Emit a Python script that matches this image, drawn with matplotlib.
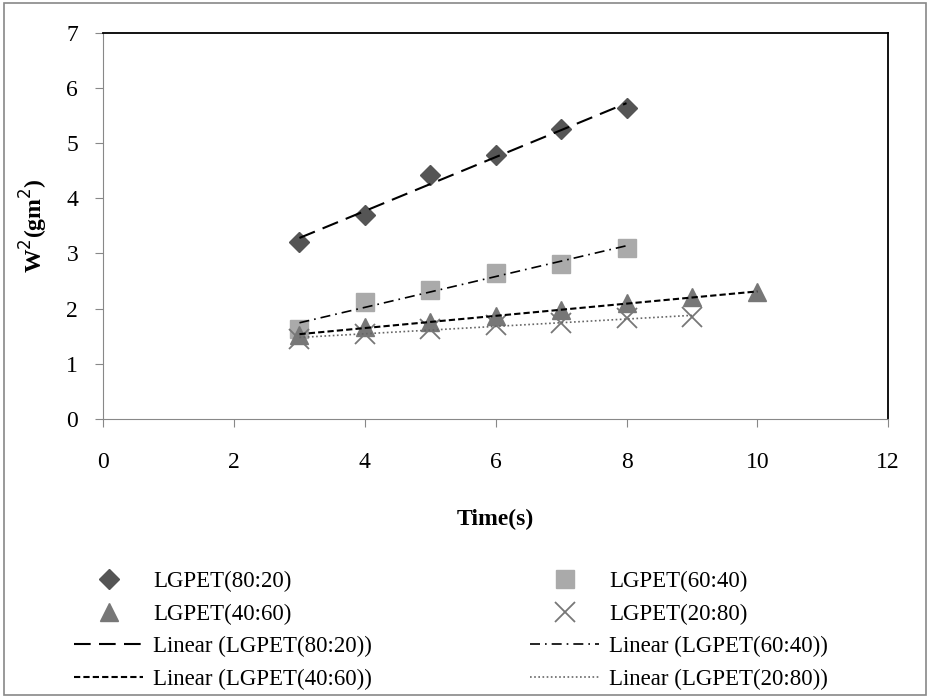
import matplotlib.pyplot as plt
import numpy as np
from matplotlib.patches import Rectangle

plt.rcParams['font.family'] = ['Liberation Serif', 'DejaVu Serif']

# Data
x_8020 = [3, 4, 5, 6, 7, 8]
y_8020 = [3.21, 3.70, 4.43, 4.79, 5.25, 5.63]

x_6040 = [3, 4, 5, 6, 7, 8]
y_6040 = [1.62, 2.12, 2.34, 2.65, 2.81, 3.10]

x_4060 = [3, 4, 5, 6, 7, 8, 9, 10]
y_4060 = [1.52, 1.66, 1.76, 1.86, 1.98, 2.10, 2.20, 2.30]

x_2080 = [3, 4, 5, 6, 7, 8, 9]
y_2080 = [1.45, 1.54, 1.63, 1.70, 1.74, 1.82, 1.85]

labels = ['LGPET(80:20)', 'LGPET(60:40)', 'LGPET(40:60)', 'LGPET(20:80)']

fig = plt.figure(figsize=(9.3, 6.98), dpi=100)
ax = fig.add_axes([0.111, 0.40, 0.844, 0.553])

# outer frame of the chart area
fig.patches.append(Rectangle((0.004, 0.004), 0.992, 0.992, transform=fig.transFigure,
                             fill=False, edgecolor='#888888', lw=1.2))


def trend(ax, x, y, **kw):
    # linear trendline over the span of the data
    m, c = np.polyfit(x, y, 1)
    xs = np.array([x[0], x[-1]])
    return ax.plot(xs, m * xs + c, **kw)[0]


h1 = ax.plot(x_8020, y_8020, 'D', color='#555555', ms=10, ls='none', label=labels[0])[0]
h2 = ax.plot(x_6040, y_6040, 's', color='#aaaaaa', ms=13, ls='none', label=labels[1])[0]
h3 = ax.plot(x_4060, y_4060, '^', color='#777777', ms=13, ls='none', label=labels[2])[0]
h4 = ax.plot(x_2080, y_2080, 'x', color='#777777', ms=14, mew=1.3, ls='none', label=labels[3])[0]

t1 = trend(ax, x_8020, y_8020, color='black', lw=1.5, dashes=(8, 4),
           label='Linear (LGPET(80:20))')
t2 = trend(ax, x_6040, y_6040, color='black', lw=1.2, dashes=(6, 3, 1, 3),
           label='Linear (LGPET(60:40))')
t3 = trend(ax, x_4060, y_4060, color='black', lw=1.5, dashes=(3, 1.5),
           label='Linear (LGPET(40:60))')
t4 = trend(ax, x_2080, y_2080, color='#666666', lw=1.2, dashes=(1, 1.5),
           label='Linear (LGPET(20:80))')

ax.set_xlim(0, 12)
ax.set_ylim(0, 7)
ax.set_xticks(range(0, 13, 2))
ax.set_yticks(range(0, 8))
ax.tick_params(labelsize=17, direction='out', length=6, color='#888888')
ax.tick_params(axis='x', pad=18)
ax.tick_params(axis='y', pad=12)
for s in ['left', 'bottom']:
    ax.spines[s].set_color('#888888')
for s in ['top', 'right']:
    ax.spines[s].set_color('black')
    ax.spines[s].set_linewidth(1.3)

ax.set_xlabel('Time(s)', fontsize=17, fontweight='bold', labelpad=26)
ax.set_ylabel(r'W$^2$(gm$^2$)', fontsize=17, fontweight='bold', labelpad=12)

# legend: column-major order so rows read as in the original
handles = [h1, h3, t1, t3, h2, h4, t2, t4]
fig.legend(handles=handles, labels=[h.get_label() for h in handles],
           loc='upper left', bbox_to_anchor=(0.07, 0.195), ncol=2, frameon=False,
           fontsize=16.5, handlelength=3.0, handletextpad=0.45, columnspacing=6.9,
           labelspacing=0.5, borderaxespad=0)

plt.savefig('out.png', dpi=100)
